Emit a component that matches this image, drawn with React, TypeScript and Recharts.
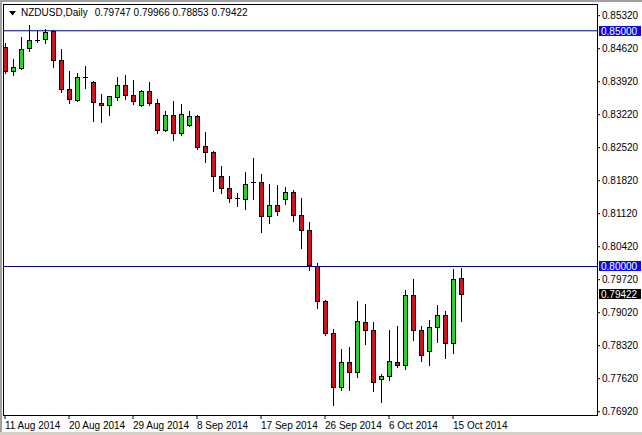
import React from "react";
import { ComposedChart, Bar, XAxis, YAxis, ReferenceLine } from "recharts";

// daily bars incl. the sunday sessions, as MT4 shows them
const dates = [
  "11 Aug 2014", "12 Aug 2014", "13 Aug 2014", "14 Aug 2014", "15 Aug 2014", "17 Aug 2014",
  "18 Aug 2014", "19 Aug 2014", "20 Aug 2014", "21 Aug 2014", "22 Aug 2014", "24 Aug 2014",
  "25 Aug 2014", "26 Aug 2014", "27 Aug 2014", "28 Aug 2014", "29 Aug 2014", "31 Aug 2014",
  "1 Sep 2014", "2 Sep 2014", "3 Sep 2014", "4 Sep 2014", "5 Sep 2014", "7 Sep 2014",
  "8 Sep 2014", "9 Sep 2014", "10 Sep 2014", "11 Sep 2014", "12 Sep 2014", "14 Sep 2014",
  "15 Sep 2014", "16 Sep 2014", "17 Sep 2014", "18 Sep 2014", "19 Sep 2014", "21 Sep 2014",
  "22 Sep 2014", "23 Sep 2014", "24 Sep 2014", "25 Sep 2014", "26 Sep 2014", "28 Sep 2014",
  "29 Sep 2014", "30 Sep 2014", "1 Oct 2014", "2 Oct 2014", "3 Oct 2014", "5 Oct 2014",
  "6 Oct 2014", "7 Oct 2014", "8 Oct 2014", "9 Oct 2014", "10 Oct 2014", "12 Oct 2014",
  "13 Oct 2014", "14 Oct 2014", "15 Oct 2014", "16 Oct 2014",
];

const opens = [
  0.84662, 0.84153, 0.84217, 0.84641, 0.848, 0.84832, 0.84991, 0.84387, 0.83771, 0.83538,
  0.84011, 0.83905, 0.83468, 0.83426, 0.83595, 0.8385, 0.83638, 0.83426, 0.83729, 0.83468,
  0.82895, 0.8322, 0.82832, 0.82993, 0.83199, 0.82547, 0.82429, 0.81926, 0.81665, 0.81444,
  0.81432, 0.81792, 0.81792, 0.81063, 0.81311, 0.81423, 0.8158, 0.81092, 0.80774, 0.80002,
  0.79274, 0.78589, 0.77435, 0.77974, 0.77762, 0.78822, 0.78653, 0.77613, 0.77677, 0.77974,
  0.77917, 0.79402, 0.78653, 0.78199, 0.78716, 0.78977, 0.78369, 0.79747,
];
const highs = [
  0.84747, 0.84408, 0.84875, 0.85129, 0.84991, 0.85044, 0.85012, 0.8462, 0.84138, 0.84111,
  0.84259, 0.83941, 0.83665, 0.83623, 0.8402, 0.84068, 0.83956, 0.8375, 0.83905, 0.83553,
  0.83305, 0.83502, 0.83453, 0.8329, 0.8322, 0.82844, 0.82441, 0.82123, 0.81911, 0.81559,
  0.82004, 0.82301, 0.81962, 0.8175, 0.81735, 0.81686, 0.81629, 0.81453, 0.80935, 0.80074,
  0.79296, 0.7868, 0.7825, 0.78292, 0.79274, 0.79204, 0.78822, 0.77726, 0.78659, 0.78729,
  0.79493, 0.79741, 0.78744, 0.78871, 0.79175, 0.79062, 0.79953, 0.79966,
];
const lows = [
  0.84111, 0.84058, 0.84196, 0.84578, 0.84758, 0.84747, 0.84238, 0.83697, 0.83474, 0.83502,
  0.83786, 0.83078, 0.83057, 0.83205, 0.83538, 0.83553, 0.83438, 0.83396, 0.83426, 0.82838,
  0.8288, 0.82675, 0.82796, 0.82972, 0.82499, 0.82208, 0.81593, 0.8155, 0.81368, 0.8129,
  0.8122, 0.81432, 0.80732, 0.80923, 0.81084, 0.81332, 0.80957, 0.80392, 0.79932, 0.79119,
  0.78553, 0.77053, 0.77386, 0.77386, 0.77656, 0.78356, 0.7735, 0.77125, 0.77598, 0.77868,
  0.77825, 0.78447, 0.77987, 0.77917, 0.78398, 0.78059, 0.78171, 0.78853,
];
const closes = [
  0.84153, 0.84238, 0.8462, 0.84811, 0.848, 0.84981, 0.84376, 0.83771, 0.83559, 0.84026,
  0.84011, 0.83489, 0.83426, 0.83608, 0.8385, 0.83638, 0.8351, 0.83729, 0.83468, 0.82891,
  0.8322, 0.82832, 0.83235, 0.83199, 0.82526, 0.82429, 0.81911, 0.81665, 0.81453, 0.81444,
  0.8175, 0.81792, 0.81063, 0.81311, 0.81169, 0.8158, 0.81084, 0.80774, 0.80023, 0.79274,
  0.78589, 0.77444, 0.77974, 0.77762, 0.7885, 0.78653, 0.7755, 0.77677, 0.77987, 0.77902,
  0.79402, 0.78653, 0.78129, 0.78716, 0.78977, 0.78369, 0.79741, 0.79422,
];

const yTicks = [
  0.8532, 0.8462, 0.8392, 0.8322, 0.8252, 0.8182, 0.8112, 0.8042, 0.7972, 0.7902, 0.7832,
  0.7762, 0.7692,
];
const levels = [0.85, 0.8];

const BULL = "#32cd32";
const BEAR = "#c8161e";
const FONT = "'Liberation Sans', Arial, sans-serif";

const data = dates.map((d, i) => ({
  i,
  date: d,
  open: opens[i],
  high: highs[i],
  low: lows[i],
  close: closes[i],
  range: [lows[i], highs[i]],
}));
const tickIdx = data.filter((d) => d.i % 8 === 0).map((d) => d.i);
const last = data[data.length - 1];

function Candle(props: any) {
  const { x, y, width, height, payload } = props;
  if (x == null || !payload) return null;
  const { open, close, high, low } = payload;
  const k = height / (high - low);
  const cx = Math.round(x + width / 2) + 0.5;
  const yO = y + (high - open) * k;
  const yC = y + (high - close) * k;
  const top = Math.round(Math.min(yO, yC)) + 0.5;
  const bot = Math.round(Math.max(yO, yC)) + 0.5;
  return (
    <g>
      <line x1={cx} x2={cx} y1={Math.round(y)} y2={Math.round(y + height) + 1} stroke="#000" />
      {bot - top < 1 ? (
        <line x1={cx - 2.5} x2={cx + 2.5} y1={top} y2={top} stroke="#000" />
      ) : (
        <rect
          x={cx - 2}
          y={top}
          width={4}
          height={bot - top}
          fill={close > open ? BULL : BEAR}
          stroke="#000"
        />
      )}
    </g>
  );
}

function PriceTag(props: any) {
  const { viewBox, text, bg } = props;
  if (!viewBox) return null;
  const y = Math.round(viewBox.y);
  return (
    <g>
      <rect x={599} y={y - 5} width={42} height={10} fill={bg} />
      <text x={601} y={y} dy="0.36em" fill="#fff" fontSize={10} fontFamily={FONT}>
        {text}
      </text>
    </g>
  );
}

export default function App() {
  return (
    <div
      style={{
        position: "absolute",
        left: 0,
        top: 0,
        width: 642,
        height: 435,
        background: "#fff",
        overflow: "hidden",
        fontFamily: FONT,
      }}
    >
      <ComposedChart
        width={642}
        height={435}
        data={data}
        margin={{ top: 4, right: 0, bottom: 0, left: 3 }}
        style={{ fontFamily: FONT }}
      >
        <XAxis
          type="number"
          dataKey="i"
          domain={[-0.25, 74]}
          allowDataOverflow
          ticks={tickIdx}
          interval={0}
          tickFormatter={(i: number) => dates[i]}
          axisLine={false}
          tickLine={{ stroke: "#000" }}
          tickSize={4}
          tickMargin={3}
          height={20}
          tick={{ fill: "#000", fontSize: 10, textAnchor: "start" }}
        />
        <YAxis
          orientation="right"
          domain={[0.7685, 0.85568]}
          allowDataOverflow
          ticks={yTicks}
          interval={0}
          tickFormatter={(v: number) => v.toFixed(5)}
          width={45}
          axisLine={false}
          tickLine={{ stroke: "#000" }}
          tickSize={3}
          tickMargin={2}
          tick={{ fill: "#000", fontSize: 10 }}
        />
        {levels.map((lv) => (
          <ReferenceLine
            key={lv}
            y={lv}
            stroke="#000080"
            label={<PriceTag text={lv.toFixed(5)} bg="#0a0ae0" />}
          />
        ))}
        <ReferenceLine
          y={last.close}
          stroke="none"
          label={<PriceTag text={last.close.toFixed(5)} bg="#000" />}
        />
        <Bar dataKey="range" shape={<Candle />} barSize={5} isAnimationActive={false} />
      </ComposedChart>

      {/* chart frame + window edges */}
      <div
        style={{
          position: "absolute",
          left: 3,
          top: 4,
          width: 595,
          height: 412,
          border: "1px solid #000",
          boxSizing: "border-box",
          pointerEvents: "none",
        }}
      />
      <div style={{ position: "absolute", left: 0, top: 0, width: 642, height: 2, background: "#a0a0a0" }} />
      <div style={{ position: "absolute", left: 0, top: 0, width: 2, height: 435, background: "#a0a0a0" }} />
      <div style={{ position: "absolute", left: 0, top: 432, width: 642, height: 3, background: "#d4d0c8" }} />

      {/* MT4 header */}
      <div
        style={{
          position: "absolute",
          left: 9,
          top: 7,
          fontSize: 10,
          lineHeight: "12px",
          color: "#000",
          whiteSpace: "pre",
          display: "flex",
          alignItems: "center",
        }}
      >
        <svg width={7} height={5} style={{ marginRight: 5 }}>
          <polygon points="0,0 7,0 3.5,4.5" fill="#000" />
        </svg>
        <span>NZDUSD,Daily</span>
        <span style={{ marginLeft: 7 }}>
          {[last.open, last.high, last.low, last.close].map((v) => v.toFixed(5)).join(" ")}
        </span>
      </div>
    </div>
  );
}
